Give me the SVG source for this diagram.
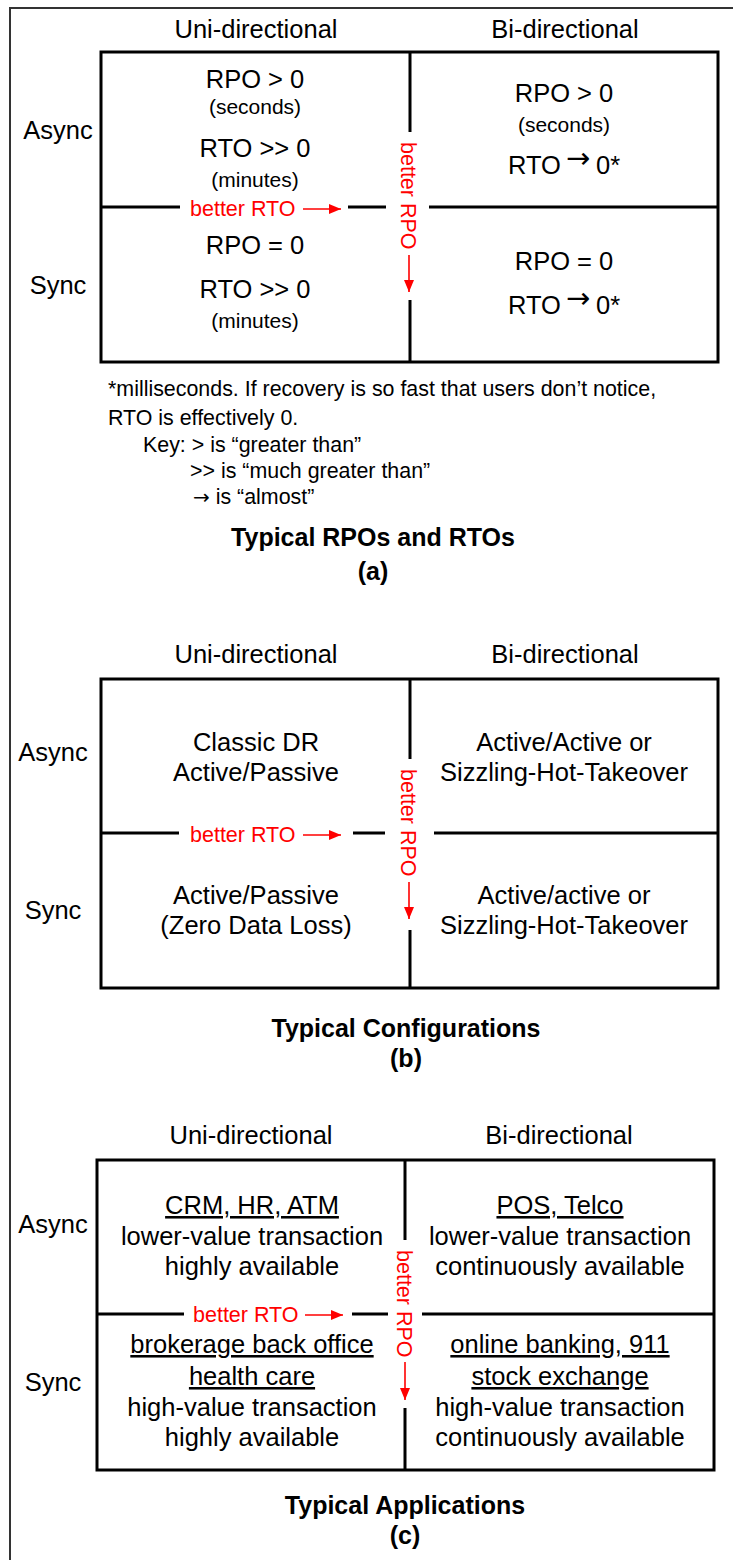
<svg xmlns="http://www.w3.org/2000/svg" width="733" height="1560" viewBox="0 0 733 1560">
  <style>
    text { font-family: "Liberation Sans", Arial, sans-serif; fill: #000; }
    .m { font-size: 25.5px; text-anchor: middle; }
    .s { font-size: 21px; text-anchor: middle; }
    .f { font-size: 21.4px; }
    .red { font-size: 21.5px; fill: #ff0000; }
    .ttl { font-size: 25px; font-weight: bold; text-anchor: middle; }
    .u { text-decoration: underline; }
    .sym { font-family: "DejaVu Sans", sans-serif; }
    .grid { fill: none; stroke: #000; stroke-width: 3; }
    .frame { fill: none; stroke: #333; stroke-width: 2; }
    .arr { stroke: #ff0000; stroke-width: 1.6; fill: none; marker-end: url(#head); }
  </style>
  <defs>
    <marker id="head" viewBox="0 0 12 10" markerWidth="12" markerHeight="10" refX="12" refY="5" markerUnits="userSpaceOnUse" orient="auto">
      <path d="M0,0 L12,5 L0,10 z" fill="#ff0000"/>
    </marker>
  </defs>

  <rect width="733" height="1560" fill="#fff"/>
  <path class="frame" d="M10,1560 V8 H733"/>

  <!-- ===== (a) Typical RPOs and RTOs ===== -->
  <g id="section-a">
    <text class="m" x="256" y="38">Uni-directional</text>
    <text class="m" x="565" y="38">Bi-directional</text>
    <text class="m" x="58" y="139">Async</text>
    <text class="m" x="58" y="294">Sync</text>
    <g id="a-grid">
      <rect class="grid" x="101" y="52" width="617" height="310"/>
      <path class="grid" d="M410,52 V132 M410,300 V362 M101,207 H180 M348,207 H386 M429,207 H718"/>
    </g>
    <g id="a-uni-async">
      <text class="m" x="255" y="88">RPO &gt; 0</text>
      <text class="s" x="255" y="114">(seconds)</text>
      <text class="m" x="255" y="157">RTO &gt;&gt; 0</text>
      <text class="s" x="255" y="187">(minutes)</text>
    </g>
    <g id="a-uni-sync">
      <text class="m" x="255" y="254">RPO = 0</text>
      <text class="m" x="255" y="298">RTO &gt;&gt; 0</text>
      <text class="s" x="255" y="328">(minutes)</text>
    </g>
    <g id="a-bi-async">
      <text class="m" x="564" y="102">RPO &gt; 0</text>
      <text class="s" x="564" y="132">(seconds)</text>
      <text class="m" x="508" y="174" style="text-anchor:start">RTO</text>
      <text class="sym" x="566" y="168" font-size="29">→</text>
      <text class="m" x="596" y="174" style="text-anchor:start">0*</text>
    </g>
    <g id="a-bi-sync">
      <text class="m" x="564" y="270">RPO = 0</text>
      <text class="m" x="508" y="314" style="text-anchor:start">RTO</text>
      <text class="sym" x="566" y="308" font-size="29">→</text>
      <text class="m" x="596" y="314" style="text-anchor:start">0*</text>
    </g>
    <g id="a-notes">
      <text class="f" x="108" y="396">*milliseconds. If recovery is so fast that users don’t notice,</text>
      <text class="f" x="108" y="425">RTO is effectively 0.</text>
      <text class="f" x="143" y="452">Key: &gt; is “greater than”</text>
      <text class="f" x="190" y="478">&gt;&gt; is “much greater than”</text>
      <text class="f" x="193" y="504"><tspan class="sym" font-size="20">→</tspan> is “almost”</text>
    </g>
    <text class="ttl" x="373" y="546">Typical RPOs and RTOs</text>
    <text class="ttl" x="373" y="580">(a)</text>
  </g>

  <!-- ===== (b) Typical Configurations ===== -->
  <g id="section-b">
    <text class="m" x="256" y="663">Uni-directional</text>
    <text class="m" x="565" y="663">Bi-directional</text>
    <text class="m" x="53" y="761">Async</text>
    <text class="m" x="53" y="919">Sync</text>
    <g id="b-grid">
      <rect class="grid" x="101" y="679" width="617" height="309"/>
      <path class="grid" d="M410,679 V759 M410,930 V988 M101,833 H179 M353,833 H385 M434,833 H718"/>
    </g>
    <g id="b-uni-async">
      <text class="m" x="256" y="751">Classic DR</text>
      <text class="m" x="256" y="781">Active/Passive</text>
    </g>
    <g id="b-bi-async">
      <text class="m" x="564" y="751">Active/Active or</text>
      <text class="m" x="564" y="781">Sizzling-Hot-Takeover</text>
    </g>
    <g id="b-uni-sync">
      <text class="m" x="256" y="904">Active/Passive</text>
      <text class="m" x="256" y="934">(Zero Data Loss)</text>
    </g>
    <g id="b-bi-sync">
      <text class="m" x="564" y="904">Active/active or</text>
      <text class="m" x="564" y="934">Sizzling-Hot-Takeover</text>
    </g>
    <text class="ttl" x="406" y="1037">Typical Configurations</text>
    <text class="ttl" x="406" y="1067">(b)</text>
  </g>

  <!-- ===== (c) Typical Applications ===== -->
  <g id="section-c">
    <text class="m" x="251" y="1144">Uni-directional</text>
    <text class="m" x="559" y="1144">Bi-directional</text>
    <text class="m" x="53" y="1233">Async</text>
    <text class="m" x="53" y="1391">Sync</text>
    <g id="c-grid">
      <rect class="grid" x="97" y="1160" width="617" height="310"/>
      <path class="grid" d="M405,1160 V1240 M405,1408 V1470 M97,1314 H184 M352,1314 H388 M422,1314 H714"/>
    </g>
    <g id="c-uni-async">
      <text class="m u" x="252" y="1214">CRM, HR, ATM</text>
      <text class="m" x="252" y="1245">lower-value transaction</text>
      <text class="m" x="252" y="1275">highly available</text>
    </g>
    <g id="c-bi-async">
      <text class="m u" x="560" y="1214">POS, Telco</text>
      <text class="m" x="560" y="1245">lower-value transaction</text>
      <text class="m" x="560" y="1275">continuously available</text>
    </g>
    <g id="c-uni-sync">
      <text class="m u" x="252" y="1353">brokerage back office</text>
      <text class="m u" x="252" y="1385">health care</text>
      <text class="m" x="252" y="1416">high-value transaction</text>
      <text class="m" x="252" y="1446">highly available</text>
    </g>
    <g id="c-bi-sync">
      <text class="m u" x="560" y="1353">online banking, 911</text>
      <text class="m u" x="560" y="1385">stock exchange</text>
      <text class="m" x="560" y="1416">high-value transaction</text>
      <text class="m" x="560" y="1446">continuously available</text>
    </g>
    <text class="ttl" x="405" y="1514">Typical Applications</text>
    <text class="ttl" x="405" y="1544">(c)</text>
  </g>

  <!-- red trend arrows and their labels -->
  <g id="connectors">
    <text class="red" x="190" y="216">better RTO</text>
    <line class="arr" x1="303" y1="209" x2="341" y2="209"/>
    <text class="red" transform="translate(401,142) rotate(90)">better RPO</text>
    <line class="arr" x1="409" y1="255" x2="409" y2="292"/>

    <text class="red" x="190" y="842">better RTO</text>
    <line class="arr" x1="303" y1="835" x2="341" y2="835"/>
    <text class="red" transform="translate(401,769) rotate(90)">better RPO</text>
    <line class="arr" x1="409" y1="882" x2="409" y2="919"/>

    <text class="red" x="193" y="1322">better RTO</text>
    <line class="arr" x1="305" y1="1315" x2="343" y2="1315"/>
    <text class="red" transform="translate(397,1250) rotate(90)">better RPO</text>
    <line class="arr" x1="405" y1="1362" x2="405" y2="1400"/>
  </g>
</svg>
